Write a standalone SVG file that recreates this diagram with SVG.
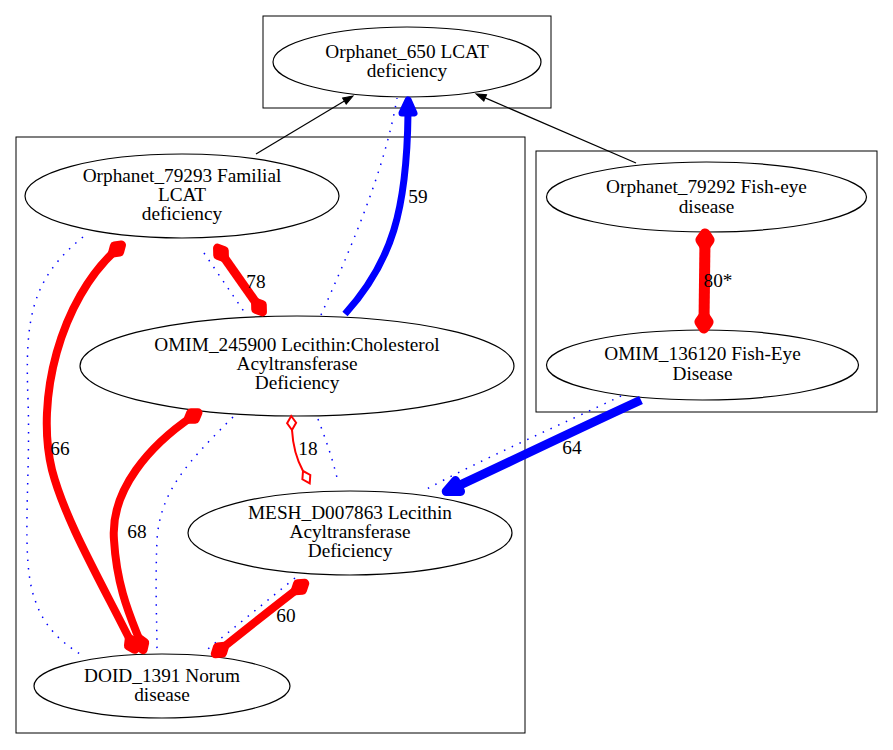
<svg xmlns="http://www.w3.org/2000/svg" width="893" height="750" viewBox="0 0 893 750">
<style>
text{font-family:"Liberation Serif","Times New Roman",serif;font-size:19.3px;fill:#000;text-anchor:middle}
.cl{fill:none;stroke:#000;stroke-width:1}
.nd{fill:none;stroke:#000;stroke-width:1.2}
.k{fill:none;stroke:#000;stroke-width:1.2}
.dot{fill:none;stroke:#00f;stroke-width:1.5;stroke-dasharray:1.5 7}
.b{fill:none;stroke:#00f}
.r{fill:none;stroke:#f00}
</style>
<defs>
<marker id="aK" markerUnits="userSpaceOnUse" orient="auto" markerWidth="40" markerHeight="40" refX="5" refY="20" overflow="visible">
<path d="M5,16.5 L15,20 L5,23.5 Z" fill="#000" stroke="#000" stroke-width="1"/>
</marker>
<marker id="aB" markerUnits="userSpaceOnUse" orient="auto" markerWidth="40" markerHeight="40" refX="6" refY="20" overflow="visible">
<path d="M6,14 L19,20 L6,26 Z" fill="#00f" stroke="#00f" stroke-width="7" stroke-linejoin="round"/>
</marker>
<marker id="aB2" markerUnits="userSpaceOnUse" orient="auto" markerWidth="40" markerHeight="40" refX="6" refY="20" overflow="visible">
<path d="M6,14 L19,20 L6,26 Z" fill="#00f" stroke="#00f" stroke-width="9" stroke-linejoin="round"/>
</marker>
<marker id="dR" markerUnits="userSpaceOnUse" orient="auto-start-reverse" markerWidth="40" markerHeight="40" refX="20" refY="20" overflow="visible">
<path d="M26,20 L20,24 L14,20 L20,16 Z" fill="#f00" stroke="#f00" stroke-width="9" stroke-linejoin="round"/>
</marker>
<marker id="dR2" markerUnits="userSpaceOnUse" orient="auto-start-reverse" markerWidth="40" markerHeight="40" refX="20" refY="20" overflow="visible">
<path d="M26,20 L20,24 L14,20 L20,16 Z" fill="#f00" stroke="#f00" stroke-width="11" stroke-linejoin="round"/>
</marker>
<marker id="dO" markerUnits="userSpaceOnUse" orient="auto-start-reverse" markerWidth="30" markerHeight="30" refX="5" refY="15" overflow="visible">
<path d="M5,15 L12,10.5 L19,15 L12,19.5 Z" fill="#fff" stroke="#f00" stroke-width="2"/>
</marker>
</defs>
<rect width="893" height="750" fill="#fff"/>
<g id="clusters">
<rect class="cl" x="263" y="16" width="288" height="92"/>
<rect class="cl" x="16" y="137" width="509" height="596"/>
<rect class="cl" x="536" y="151" width="341" height="261"/>
</g>
<g id="nodes">
<g id="n_orphanet650">
<ellipse class="nd" cx="407" cy="62" rx="134" ry="35"/>
<text x="407" y="58">Orphanet_650 LCAT</text>
<text x="407" y="77">deficiency</text>
</g>
<g id="n_orphanet79293">
<ellipse class="nd" cx="182" cy="196" rx="157" ry="42"/>
<text x="182" y="182">Orphanet_79293 Familial</text>
<text x="182" y="201">LCAT</text>
<text x="182" y="220">deficiency</text>
</g>
<g id="n_omim245900">
<ellipse class="nd" cx="297" cy="366" rx="217" ry="50"/>
<text x="297" y="351">OMIM_245900 Lecithin:Cholesterol</text>
<text x="297" y="370">Acyltransferase</text>
<text x="297" y="389">Deficiency</text>
</g>
<g id="n_mesh">
<ellipse class="nd" cx="350" cy="533" rx="162" ry="42"/>
<text x="350" y="519">MESH_D007863 Lecithin</text>
<text x="350" y="538">Acyltransferase</text>
<text x="350" y="557">Deficiency</text>
</g>
<g id="n_doid1391">
<ellipse class="nd" cx="162" cy="686" rx="128" ry="32"/>
<text x="162" y="682">DOID_1391 Norum</text>
<text x="162" y="701">disease</text>
</g>
<g id="n_orphanet79292">
<ellipse class="nd" cx="706.5" cy="197" rx="160" ry="35"/>
<text x="706.5" y="193">Orphanet_79292 Fish-eye</text>
<text x="706.5" y="213">disease</text>
</g>
<g id="n_omim136120">
<ellipse class="nd" cx="702.5" cy="365" rx="156" ry="35"/>
<text x="702.5" y="360">OMIM_136120 Fish-Eye</text>
<text x="702.5" y="380">Disease</text>
</g>
</g>
<g id="connectors">
<path class="k" d="M256,154 L344.4,101.1" marker-end="url(#aK)"/>
<path class="k" d="M636,163 L485.2,97.9" marker-end="url(#aK)"/>
<path class="dot" d="M321,315 C350,250 385,170 397,98"/>
<path class="b" stroke-width="7" d="M345,314 C392,262 407,210 408,113" marker-end="url(#aB)"/>
<text x="418" y="203">59</text>
<path class="dot" d="M204,253 L247,316"/>
<path class="r" stroke-width="9" d="M221,253 L259,307" marker-start="url(#dR)" marker-end="url(#dR)"/>
<text x="256" y="288">78</text>
<path class="dot" d="M83,237 C30,280 25,320 28,400 C31,480 20,560 35,600 C45,630 65,645 85,657"/>
<path class="r" stroke-width="8" d="M117,249 C60,300 35,400 52,470 C65,520 100,580 132,644" marker-start="url(#dR)" marker-end="url(#dR)"/>
<text x="60" y="455">66</text>
<path class="dot" d="M233,417 C190,460 160,490 157,540 C155,590 157,620 157,654"/>
<path class="r" stroke-width="8" d="M193,416 C150,445 110,490 114,540 C117,590 132,620 141,644" marker-start="url(#dR)" marker-end="url(#dR)"/>
<text x="137" y="538">68</text>
<path class="dot" d="M318,419 C326,440 333,460 338,482"/>
<path class="r" stroke-width="2" d="M292,430 C293,448 297,460 303,471" marker-start="url(#dO)" marker-end="url(#dO)"/>
<text x="308" y="455">18</text>
<path class="dot" d="M295,578 L203,653"/>
<path class="r" stroke-width="8" d="M300,587 C270,610 245,630 220,650" marker-start="url(#dR)" marker-end="url(#dR)"/>
<text x="286" y="622">60</text>
<path class="dot" d="M621,396 C560,425 480,460 425,490"/>
<path class="b" stroke-width="9" d="M641,400 C580,428 520,457 458,486" marker-end="url(#aB2)"/>
<text x="572" y="454">64</text>
<path class="r" stroke-width="11" d="M705,240 L704,322" marker-start="url(#dR2)" marker-end="url(#dR2)"/>
<text x="718" y="287">80*</text>
</g>
</svg>
